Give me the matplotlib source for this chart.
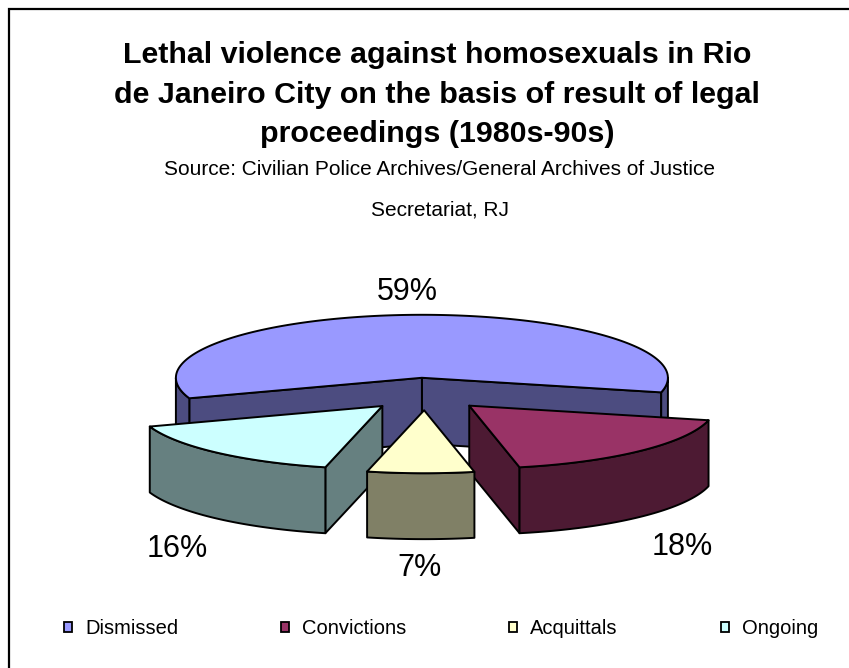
import numpy as np
import matplotlib.pyplot as plt
from matplotlib.patches import Polygon, Rectangle

plt.rcParams['font.family'] = ['Liberation Sans', 'DejaVu Sans']

# data
labels = ["Dismissed", "Convictions", "Acquittals", "Ongoing"]
shares = [59, 18, 7, 16]
top_colors = ["#9999FF", "#993366", "#FFFFCC", "#CCFFFF"]
side_colors = ["#4C4C80", "#4D1A33", "#808066", "#668080"]

title_lines = ["Lethal violence against homosexuals in Rio",
               "de Janeiro City on the basis of result of legal",
               "proceedings (1980s-90s)"]
source_lines = ["Source: Civilian Police Archives/General Archives of Justice",
                "Secretariat, RJ"]

# 3d pie look
TILT = 0.256      # ellipse height / width
DEPTH = 0.268     # thickness of the pie
EXPLODE = 0.258   # how far slices are pulled out
START = 199.0     # angle where the first slice begins (clockwise)

W, H = 849, 668
CX, CY, R = 425, 394, 246   # pie centre and radius in pixels
TX = 437                    # centre of the title block
SX = 440                    # centre of the source lines


def rim(cx, cy, angles, drop=0.0):
    t = np.radians(angles)
    return np.column_stack([cx + np.cos(t), cy + TILT * np.sin(t) - drop])


fig = plt.figure(figsize=(W / 100, H / 100), dpi=100)
ax = fig.add_axes([0, 0, 1, 1])
ax.set_xlim(-CX / R, (W - CX) / R)
ax.set_ylim(-(H - CY) / R, CY / R)
ax.axis("off")

# slice geometry
slices = []
cum = 0.0
for i, s in enumerate(shares):
    t_hi = START - cum * 3.6
    t_lo = t_hi - s * 3.6
    cum += s
    mid = (t_hi + t_lo) / 2
    cx = EXPLODE * np.cos(np.radians(mid))
    cy = EXPLODE * TILT * np.sin(np.radians(mid))
    slices.append((t_lo, t_hi, mid, cx, cy))

edge = dict(edgecolor="black", linewidth=1.4, joinstyle="round")

for i in [0, 3, 1, 2]:
    t_lo, t_hi, mid, cx, cy = slices[i]

    # cut faces that look towards the viewer
    for t, normal in [(t_lo, t_lo - 90), (t_hi, t_hi + 90)]:
        if np.sin(np.radians(normal)) < 0:
            p = rim(cx, cy, [t])[0]
            pts = [(cx, cy), p, (p[0], p[1] - DEPTH), (cx, cy - DEPTH)]
            ax.add_patch(Polygon(pts, closed=True, facecolor=side_colors[i], **edge))

    # outer wall, front half only
    for k in range(-2, 2):
        a0 = max(t_lo, 180 + 360 * k)
        a1 = min(t_hi, 360 + 360 * k)
        if a1 > a0:
            ang = np.linspace(a0, a1, 80)
            top = rim(cx, cy, ang)
            bot = rim(cx, cy, ang[::-1], DEPTH)
            ax.add_patch(Polygon(np.vstack([top, bot]), closed=True,
                                 facecolor=side_colors[i], **edge))

    # top face
    ang = np.linspace(t_hi, t_lo, 200)
    pts = np.vstack([[cx, cy], rim(cx, cy, ang)])
    ax.add_patch(Polygon(pts, closed=True, facecolor=top_colors[i], **edge))

    # percentage label
    sm = np.sin(np.radians(mid))
    lx = 1.5 * np.cos(np.radians(mid))
    ly = 1.2 * TILT * sm + (-0.402 if sm < 0 else 0.106)
    ax.text(lx, ly, f"{shares[i]}%", ha="center", va="center", fontsize=22)

# titles
for line, base in zip(title_lines, [63, 103, 142]):
    fig.text(TX / W, 1 - base / H, line, ha="center", va="baseline",
             fontsize=21.9, fontweight="bold")
for line, base in zip(source_lines, [175, 215]):
    fig.text(SX / W, 1 - base / H, line, ha="center", va="baseline", fontsize=15)

# legend
handles = [Rectangle((0, 0), 1, 1, facecolor=c, edgecolor="black", linewidth=1.3)
           for c in top_colors]
fig.legend(handles, labels, loc="center", bbox_to_anchor=(441 / W, 1 - 629 / H),
           ncol=4, frameon=False, fontsize=14.5, handlelength=0.4,
           handleheight=0.4, handletextpad=0.65, columnspacing=5.1)

# chart frame
fig.add_artist(Rectangle((9 / W, -0.05), 1.1, 1 - 9 / H + 0.05,
                         transform=fig.transFigure, fill=False,
                         edgecolor="black", linewidth=1.6))

fig.savefig("out.png", dpi=100)
